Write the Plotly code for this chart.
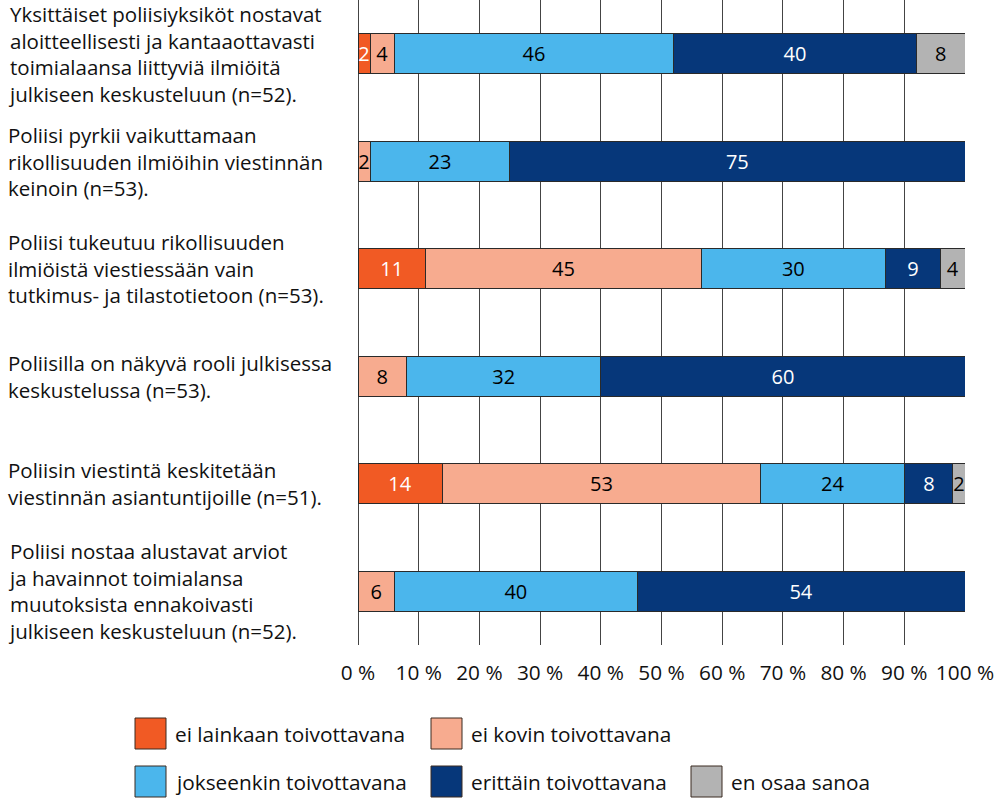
import plotly.graph_objects as go

categories = [
    "Yksittäiset poliisiyksiköt nostavat<br>aloitteellisesti ja kantaaottavasti<br>toimialaansa liittyviä ilmiöitä<br>julkiseen keskusteluun (n=52).",
    "Poliisi pyrkii vaikuttamaan<br>rikollisuuden ilmiöihin viestinnän<br>keinoin (n=53).",
    "Poliisi tukeutuu rikollisuuden<br>ilmiöistä viestiessään vain<br>tutkimus- ja tilastotietoon (n=53).",
    "Poliisilla on näkyvä rooli julkisessa<br>keskustelussa (n=53).",
    "Poliisin viestintä keskitetään<br>viestinnän asiantuntijoille (n=51).",
    "Poliisi nostaa alustavat arviot<br>ja havainnot toimialansa<br>muutoksista ennakoivasti<br>julkiseen keskusteluun (n=52).",
]

series_names = [
    "ei lainkaan toivottavana",
    "ei kovin toivottavana",
    "jokseenkin toivottavana",
    "erittäin toivottavana",
    "en osaa sanoa",
]

ei_lainkaan = [2, 0, 11, 0, 14, 0]
ei_kovin = [4, 2, 45, 8, 53, 6]
jokseenkin = [46, 23, 30, 32, 24, 40]
erittain = [40, 75, 9, 60, 8, 54]
en_osaa = [8, 0, 4, 0, 2, 0]

series_values = [ei_lainkaan, ei_kovin, jokseenkin, erittain, en_osaa]
colors = ["#F15A24", "#F7AB8F", "#4BB6EC", "#06377A", "#B3B3B3"]
text_colors = ["white", "black", "black", "white", "black"]

tick_vals = [0, 10, 20, 30, 40, 50, 60, 70, 80, 90, 100]
tick_text = [f"{v} %" for v in tick_vals]

FONT = "Open Sans"
FS = 20.8
FS_LAB = 20.5
FS_BAR = 20
W, H = 1000, 798
L, R, T, B = 358, 35, 0, 153
pw = W - L - R
ph = H - T - B

def px_x(px):
    return (px - L) / pw

def px_y(py):
    return (T + ph - py) / ph

ids = list(range(len(categories)))

fig = go.Figure()
for name, vals, col, tc in zip(series_names, series_values, colors, text_colors):
    fig.add_trace(go.Bar(
        y=ids, x=vals, orientation="h", name=name,
        marker=dict(color=col, line=dict(color="#2a2a2a", width=1)),
        text=[str(v) if v else "" for v in vals],
        textposition="inside", insidetextanchor="middle", textangle=0,
        insidetextfont=dict(color=tc, size=FS_BAR, family=FONT),
        showlegend=False, hoverinfo="skip",
    ))

fig.update_layout(
    barmode="stack", barnorm="percent", bargap=0.628,
    width=W, height=H,
    margin=dict(l=L, r=R, t=T, b=B),
    plot_bgcolor="white", paper_bgcolor="white",
    font=dict(family=FONT, size=FS, color="#111"),
    uniformtext=dict(minsize=FS_BAR - 1, mode="show"),
    xaxis=dict(range=[0, 100], tickvals=tick_vals, ticktext=tick_text,
               showgrid=True, gridcolor="#444", gridwidth=1,
               zeroline=True, zerolinecolor="#444", zerolinewidth=1,
               showline=False, ticks="", ticklabelstandoff=13,
               tickfont=dict(size=FS, family=FONT, color="#111")),
    yaxis=dict(range=[len(categories) - 0.5, -0.5], showticklabels=False,
               showgrid=False, zeroline=False, ticks=""),
)

# Category labels (left aligned)
for i, lab in enumerate(categories):
    fig.add_annotation(text=lab, xref="paper", yref="y", x=px_x(7), y=i,
                       xanchor="left", yanchor="middle", align="left",
                       showarrow=False, borderpad=0,
                       font=dict(size=FS_LAB, family=FONT, color="#111"))

# Legend drawn manually
legend_pos = [(135, 718), (431, 718), (135, 766), (431, 766), (691, 766)]
sw = 31
for name, col, (lx, ly) in zip(series_names, colors, legend_pos):
    fig.add_shape(type="rect", xref="paper", yref="paper",
                  x0=px_x(lx), x1=px_x(lx + sw), y0=px_y(ly), y1=px_y(ly + sw),
                  fillcolor=col, line=dict(color="#3a2a20", width=1))
    fig.add_annotation(text=name, xref="paper", yref="paper",
                       x=px_x(lx + sw + 7), y=px_y(ly + sw / 2),
                       xanchor="left", yanchor="middle", showarrow=False,
                       font=dict(size=FS, family=FONT, color="#111"))

fig.write_html("out.html", config={"displayModeBar": False},
               post_script="document.body.style.margin='0';document.body.style.overflow='hidden';")
